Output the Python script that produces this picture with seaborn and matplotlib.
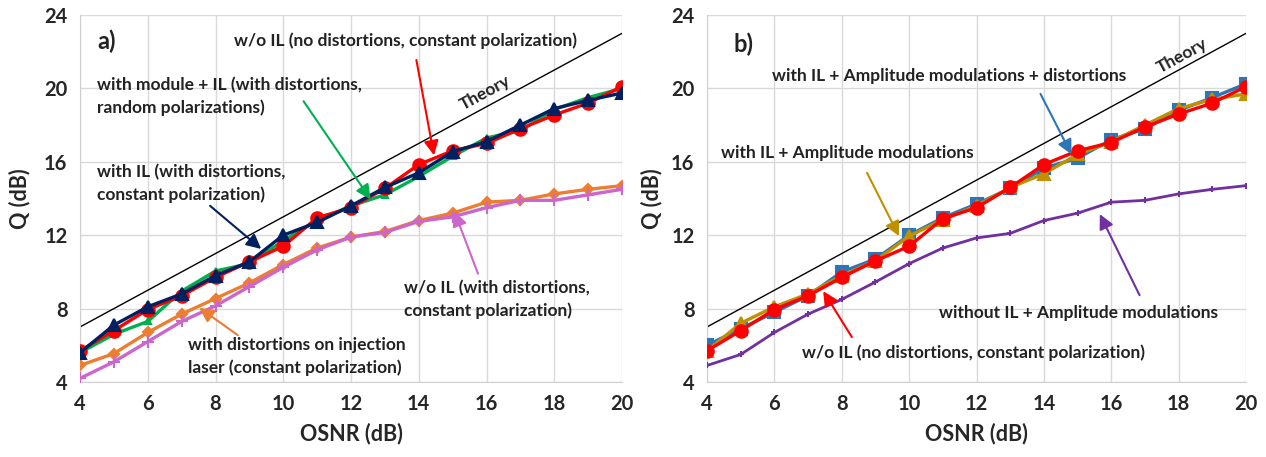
import numpy as np
import pandas as pd
import seaborn as sns
import matplotlib.pyplot as plt

osnr = list(range(4, 21))

# panel a)
q_red = [5.7, 6.8, 7.95, 8.7, 9.7, 10.55, 11.4, 12.95, 13.5, 14.55, 15.85, 16.6, 17.0, 17.8, 18.55, 19.2, 20.1]
q_navy = [5.6, 7.1, 8.1, 8.8, 9.8, 10.55, 12.0, 12.7, 13.6, 14.6, 15.4, 16.55, 17.1, 18.0, 18.9, 19.35, 19.75]
q_green = [5.6, 6.6, 7.3, 8.95, 10.05, 10.45, 11.7, 12.8, 13.6, 14.2, 15.2, 16.3, 17.3, 17.7, 18.85, 19.5, 20.0]
q_orange = [4.9, 5.55, 6.7, 7.7, 8.55, 9.4, 10.4, 11.3, 11.9, 12.2, 12.8, 13.2, 13.8, 13.9, 14.25, 14.5, 14.7]
q_pink = [4.2, 5.1, 6.2, 7.3, 8.15, 9.2, 10.25, 11.2, 11.9, 12.15, 12.75, 13.0, 13.5, 13.9, 13.9, 14.2, 14.5]

# panel b)
q_blue = [6.0, 6.9, 7.8, 8.7, 10.0, 10.7, 12.0, 12.95, 13.7, 14.55, 15.65, 16.2, 17.2, 17.8, 18.8, 19.5, 20.25]
q_gold = [5.7, 7.2, 8.1, 8.8, 9.8, 10.6, 11.95, 12.85, 13.6, 14.6, 15.35, 16.4, 17.1, 18.0, 18.9, 19.4, 19.7]
q_red_b = [5.7, 6.8, 7.95, 8.7, 9.7, 10.6, 11.4, 12.9, 13.5, 14.6, 15.85, 16.6, 17.05, 17.9, 18.6, 19.2, 20.1]
q_purple = [4.9, 5.5, 6.7, 7.7, 8.5, 9.45, 10.45, 11.3, 11.85, 12.1, 12.8, 13.2, 13.8, 13.9, 14.25, 14.5, 14.7]

theory_x = [4, 20]
theory_q = [7, 23]

sns.set_style("white")
plt.rcParams['font.family'] = ['Lato', 'DejaVu Sans']

W, H = 1266, 457
fig, axes = plt.subplots(1, 2, figsize=(W / 100, H / 100), dpi=100)
axes[0].set_position([80 / W, 1 - 382 / H, (622 - 80) / W, (382 - 15) / H])
axes[1].set_position([707 / W, 1 - 382 / H, (1246 - 707) / W, (382 - 15) / H])

txt_col = '#222222'
tfs = 12.5


def style_axis(ax, ypad):
    ax.set_xlim(4, 20)
    ax.set_ylim(4, 24)
    ax.set_xticks(range(4, 21, 2))
    ax.set_yticks(range(4, 25, 4))
    ax.grid(True, color='#d9d9d9', lw=1)
    ax.set_axisbelow(True)
    for s in ['top', 'right']:
        ax.spines[s].set_visible(False)
    for s in ['left', 'bottom']:
        ax.spines[s].set_color('#d0d0d0')
    ax.tick_params(axis='both', length=0, labelsize=14.5, pad=9)
    for lab in ax.get_xticklabels() + ax.get_yticklabels():
        lab.set_fontweight('bold')
    ax.set_xlabel('OSNR (dB)', fontsize=15.5, fontweight='bold', labelpad=6)
    ax.set_ylabel('Q (dB)', fontsize=15.5, fontweight='bold', labelpad=ypad)
    sns.lineplot(x=theory_x, y=theory_q, color='black', lw=1, ax=ax)


def series(ax, y, color, marker, ms, lw=2.4, z=3):
    sns.lineplot(x=osnr, y=y, color=color, marker=marker, markersize=ms, lw=lw,
                 markeredgecolor=color, markeredgewidth=1.5, ax=ax, zorder=z)


def note(ax, s, xy, ha='left'):
    ax.text(xy[0], xy[1], s, fontsize=tfs, fontweight='bold', color=txt_col,
            ha=ha, va='center', linespacing=1.45)


def arrow(ax, start, tip, color):
    ax.annotate('', xy=tip, xytext=start,
                arrowprops=dict(arrowstyle='-|>', color=color, lw=1.5,
                                mutation_scale=22, shrinkA=0, shrinkB=0))


# ---- a)
ax = axes[0]
style_axis(ax, 10)
series(ax, q_orange, '#ED7D31', 'D', 5)
series(ax, q_pink, '#CC66CC', '+', 9)
series(ax, q_green, '#00B050', '^', 5)
series(ax, q_red, '#FF0000', 'o', 9)
series(ax, q_navy, '#002060', '^', 8)

ax.text(4.5, 22.55, 'a)', fontsize=17, fontweight='bold', color=txt_col, va='center')
note(ax, 'w/o IL (no distortions, constant polarization)', (13.6, 22.6), ha='center')
arrow(ax, (13.93, 21.55), (14.45, 16.35), '#FF0000')
note(ax, 'with module + IL (with distortions,\nrandom polarizations)', (4.5, 19.55))
arrow(ax, (10.6, 19.3), (12.58, 13.95), '#00B050')
note(ax, 'with IL (with distortions,\nconstant polarization)', (4.5, 14.8))
arrow(ax, (7.84, 13.6), (9.35, 11.25), '#002060')
note(ax, 'w/o IL (with distortions,\nconstant polarization)', (13.55, 8.5))
arrow(ax, (15.75, 9.9), (15.05, 13.3), '#CC66CC')
note(ax, 'with distortions on injection\nlaser (constant polarization)', (7.18, 5.4))
arrow(ax, (8.66, 6.55), (7.52, 8.05), '#ED7D31')
ax.text(15.96, 19.75, 'Theory', fontsize=tfs, fontweight='bold', color=txt_col,
        rotation=45, transform_rotates_text=True, rotation_mode='anchor',
        ha='center', va='center')

# ---- b)
ax = axes[1]
style_axis(ax, 6)
series(ax, q_purple, '#7030A0', '+', 5, lw=2.0)
series(ax, q_blue, '#2E75B6', 's', 8)
series(ax, q_gold, '#BF9000', '^', 8)
series(ax, q_red_b, '#FF0000', 'o', 9)

ax.text(4.8, 22.4, 'b)', fontsize=17, fontweight='bold', color=txt_col, va='center')
note(ax, 'with IL + Amplitude modulations + distortions', (11.2, 20.67), ha='center')
arrow(ax, (13.9, 19.7), (14.82, 16.4), '#2E75B6')
note(ax, 'with IL + Amplitude modulations', (4.42, 16.5))
arrow(ax, (8.75, 15.4), (9.7, 11.95), '#BF9000')
note(ax, 'without IL + Amplitude modulations', (10.88, 7.76))
arrow(ax, (16.84, 8.73), (15.66, 13.15), '#7030A0')
note(ax, 'w/o IL (no distortions, constant polarization)', (6.82, 5.58))
arrow(ax, (8.3, 6.45), (7.45, 8.95), '#FF0000')
ax.text(18.1, 21.75, 'Theory', fontsize=tfs, fontweight='bold', color=txt_col,
        rotation=45, transform_rotates_text=True, rotation_mode='anchor',
        ha='center', va='center')

fig.savefig('out.png', dpi=100)
